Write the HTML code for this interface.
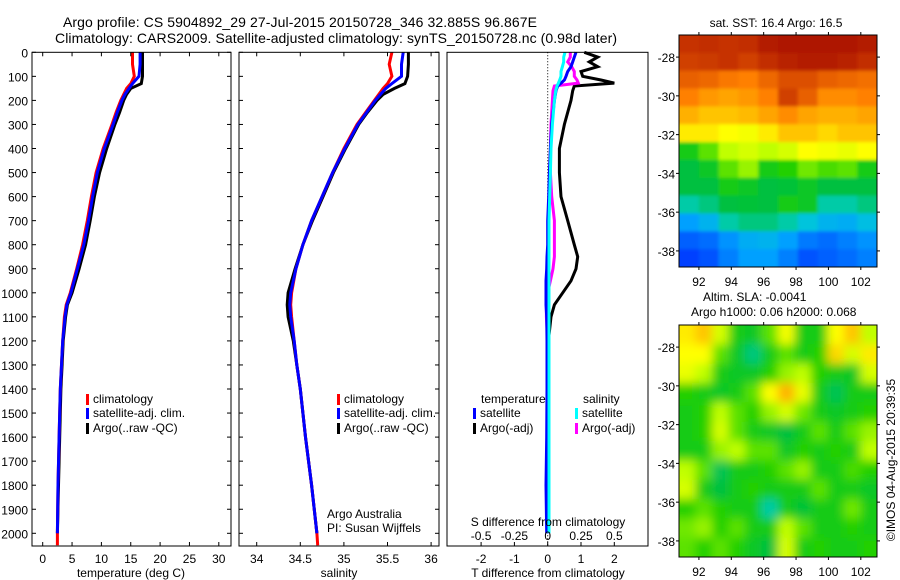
<!DOCTYPE html>
<html><head><meta charset="utf-8">
<style>
html,body{margin:0;padding:0;background:#fff;}
svg{display:block;font-family:"Liberation Sans",sans-serif;}
text{font-size:12px;fill:#000;}
</style></head>
<body>
<svg id="fig" width="900" height="580" viewBox="0 0 900 580" xmlns="http://www.w3.org/2000/svg">
<defs>
<clipPath id="clipSST"><rect x="679" y="35" width="198" height="232"/></clipPath>
<clipPath id="clipSLA"><rect x="679" y="325" width="198" height="232"/></clipPath>
<filter id="blurSLA" x="-10%" y="-10%" width="120%" height="120%"><feGaussianBlur stdDeviation="5"/></filter>
<filter id="blurSST" x="-5%" y="-5%" width="110%" height="110%"><feGaussianBlur stdDeviation="1.5"/></filter>
</defs>
<text x="63" y="27" textLength="474" style="font-size:14px">Argo profile: CS 5904892_29 27-Jul-2015 20150728_346 32.885S 96.867E</text>
<text x="55" y="43" textLength="562" style="font-size:14px">Climatology: CARS2009. Satellite-adjusted climatology: synTS_20150728.nc (0.98d later)</text>
<g id="p1"></g>
<g id="p2"></g>
<g id="p3"></g>
<g id="m1"></g>
<g id="m2"></g>
<text x="776" y="27" text-anchor="middle">sat. SST: 16.4 Argo: 16.5</text>
<text x="703" y="301">Altim. SLA: -0.0041</text>
<text x="691" y="316">Argo h1000: 0.06 h2000: 0.068</text>
<text transform="translate(895,460) rotate(-90)" text-anchor="middle">©IMOS 04-Aug-2015 20:39:35</text>
</svg>
<script>
// ---- profile data ----
const depths = [0,50,100,130,150,175,200,250,300,400,500,600,700,800,900,1000,1050,1100,1200,1300,1400,1600,1800,2000];
const depthsClim = [0,50,100,130,150,175,200,250,300,400,500,600,700,800,900,1000,1050,1100,1200,1300,1400,1600,1800,2000,2050];
const tempClim = [15.3,15.3,15.6,15.0,14.3,13.8,13.3,12.5,11.8,10.3,9.1,8.3,7.6,6.8,5.8,4.7,4.0,3.7,3.4,3.2,3.0,2.8,2.6,2.5,2.5];
const tempSat  = [16.6,16.6,16.4,15.3,14.7,14.0,13.5,12.7,12.0,10.5,9.3,8.5,7.8,7.0,5.9,4.8,4.1,3.8,3.4,3.2,3.0,2.8,2.6,2.5];
const tempArgo = [17.0,17.0,17.0,16.8,15.0,14.3,13.8,13.1,12.3,10.9,9.7,8.8,8.1,7.3,6.2,5.0,4.2,3.9,3.5,3.3,3.1,2.9,2.7,2.5];
const salClim = [35.55,35.52,35.55,35.5,35.45,35.4,35.35,35.25,35.15,35.0,34.87,34.75,34.63,34.53,34.45,34.4,34.39,34.4,34.43,34.46,34.5,34.56,34.63,34.69,34.7];
const salSat  = [35.68,35.66,35.66,35.55,35.48,35.42,35.36,35.26,35.16,35.01,34.87,34.75,34.63,34.53,34.45,34.39,34.38,34.39,34.43,34.46,34.5,34.56,34.63,34.69];
const salArgo = [35.74,35.74,35.73,35.7,35.58,35.45,35.38,35.27,35.17,35.02,34.88,34.76,34.64,34.53,34.44,34.36,34.35,34.36,34.42,34.46,34.5,34.56,34.63,34.69];
const diffDepths = [0,20,40,60,80,100,115,128,140,160,200,300,400,500,600,700,800,850,900,950,1000,1050,1100,1200,1400,1600,1800,2000];
const tDiffSat  = [0.85,0.8,0.75,0.7,0.6,0.55,0.5,0.4,0.3,0.25,0.2,0.12,0.08,0.05,0.03,0.0,0.0,-0.02,-0.03,-0.05,-0.05,-0.05,-0.03,-0.02,-0.02,-0.03,-0.05,-0.03];
const tDiffArgo = [1.1,1.5,1.25,1.5,1.0,1.05,1.6,2.0,0.8,0.75,0.7,0.5,0.35,0.35,0.4,0.6,0.8,0.9,0.85,0.7,0.45,0.2,0.1,0.02,0.0,0.02,0.0,0.0];
const sDiffSat  = [0.13,0.12,0.12,0.11,0.1,0.1,0.09,0.08,0.07,0.06,0.05,0.035,0.025,0.02,0.015,0.01,0.01,0.01,0.01,0.01,0.01,0.01,0.01,0.01,0.01,0.01,0.01,0.01];
const sDiffArgo = [0.17,0.17,0.15,0.18,0.2,0.2,0.22,0.23,0.05,0.04,0.035,0.025,0.02,0.02,0.03,0.05,0.05,0.05,0.04,0.02,0.0,-0.01,-0.01,0.0,0.0,0.0,0.0,0.0];
const depthTicks = [0,100,200,300,400,500,600,700,800,900,1000,1100,1200,1300,1400,1500,1600,1700,1800,1900,2000];
const tempTicks = [0,5,10,15,20,25,30];
const salTicks = [34,34.5,35,35.5,36];
const tDiffTicks = [-2,-1,0,1,2];
const sDiffTicks = [-0.5,-0.25,0,0.25,0.5];
// ---- map data (colour index 0..1), rows north->south ----
const sstGrid = [
[.92,.93,.92,.93,.96,.97,.97,.97,.97,.96],
[.90,.91,.92,.90,.93,.95,.96,.96,.95,.93],
[.86,.85,.83,.82,.85,.88,.88,.86,.85,.84],
[.82,.78,.76,.78,.82,.90,.86,.80,.80,.82],
[.74,.72,.72,.73,.76,.80,.76,.74,.74,.76],
[.68,.68,.66,.65,.68,.72,.72,.70,.72,.72],
[.50,.55,.60,.62,.60,.62,.66,.65,.64,.66],
[.45,.48,.55,.58,.50,.52,.56,.54,.55,.50],
[.45,.45,.50,.48,.45,.46,.48,.45,.45,.45],
[.40,.42,.45,.46,.45,.50,.48,.40,.40,.42],
[.30,.33,.40,.42,.42,.40,.36,.33,.32,.35],
[.20,.22,.28,.32,.33,.30,.24,.22,.25,.28],
[.15,.18,.25,.30,.30,.25,.18,.20,.22,.25]];
const slaGrid = [
[.68,.72,.62,.50,.48,.55,.65,.50,.50,.66,.72,.60],
[.66,.66,.55,.48,.42,.50,.55,.50,.52,.70,.62,.68],
[.64,.60,.50,.48,.48,.52,.58,.60,.52,.50,.48,.62],
[.52,.50,.48,.50,.55,.66,.74,.64,.50,.44,.50,.50],
[.50,.52,.60,.55,.52,.58,.62,.56,.50,.48,.50,.52],
[.50,.52,.62,.55,.50,.48,.45,.50,.55,.50,.55,.58],
[.50,.50,.58,.60,.55,.55,.48,.52,.50,.52,.50,.60],
[.60,.55,.44,.50,.50,.52,.55,.58,.50,.50,.54,.52],
[.62,.50,.45,.50,.52,.50,.50,.50,.55,.50,.50,.48],
[.52,.55,.52,.50,.50,.40,.50,.46,.50,.50,.56,.50],
[.56,.58,.52,.55,.50,.50,.60,.55,.50,.50,.52,.50],
[.55,.52,.55,.52,.48,.45,.62,.50,.52,.50,.50,.52]];
const lonTicks = [92,94,96,98,100,102];
const latTicks = [-28,-30,-32,-34,-36,-38];

const NS = "http://www.w3.org/2000/svg";
function mk(parent, tag, attrs, txt){
  const e = document.createElementNS(NS, tag);
  for (const k in attrs) e.setAttribute(k, attrs[k]);
  if (txt !== undefined) e.textContent = txt;
  parent.appendChild(e);
  return e;
}
const yD = d => 52.3 + 0.2405*d;
const PT = 52.3, PB = 546;

function frame(g, x0, x1, name){
  const r = mk(g,'rect',{x:x0,y:PT,width:x1-x0,height:PB-PT,fill:'none',stroke:'#000','stroke-width':1});
  
  
}
function yTicks(g, x0, x1, labels){
  depthTicks.forEach(d=>{
    const y = yD(d);
    const t1 = mk(g,'line',{x1:x0,x2:x0+4,y1:y,y2:y,stroke:'#000'});
    
    
    const t2 = mk(g,'line',{x1:x1-4,x2:x1,y1:y,y2:y,stroke:'#000'});
    
    
    if (labels){
      const t = mk(g,'text',{x:28,y:y+5,'text-anchor':'end'}, String(d));
      
      
    }
  });
}
function xTicks(g, ticks, fx, yLab, fmt, top){
  ticks.forEach(v=>{
    const x = fx(v);
    const a = mk(g,'line',{x1:x,x2:x,y1:PB-4,y2:PB,stroke:'#000'});
    
    
    if (top){
      const b = mk(g,'line',{x1:x,x2:x,y1:PT,y2:PT+4,stroke:'#000'});
      
      
    }
    const t = mk(g,'text',{x:x,y:yLab,'text-anchor':'middle'}, fmt(v));
    
    
  });
}
function profile(g, ds, vals, fx, color, name, w){
  const pts = vals.map((v,i)=> fx(v).toFixed(1)+','+yD(ds[i]).toFixed(1)).join(' ');
  const p = mk(g,'polyline',{points:pts,fill:'none',stroke:color,'stroke-width':w||3,'stroke-linejoin':'miter'});
  
  
}
function legend(g, x, y, color, label, name){
  const r = mk(g,'rect',{x:x,y:y-9,width:3,height:11,fill:color});
  
  
  const t = mk(g,'text',{x:x+7,y:y}, label);
  
  
}

// Panel 1 temperature
const g1 = document.getElementById('p1');
const fxT = t => 42.7 + 5.87*t;
profile(g1, depths, tempArgo, fxT, '#000', 'temp-argo-line');
profile(g1, depthsClim, tempClim, fxT, '#f00', 'temp-clim-line');
profile(g1, depths, tempSat, fxT, '#00f', 'temp-sat-line');
frame(g1, 32, 231, 'temperature-plot-frame');
yTicks(g1, 32, 231, true);
xTicks(g1, tempTicks, fxT, 563, v=>String(v), true);
const xl1 = mk(g1,'text',{x:131,y:577,'text-anchor':'middle'},'temperature (deg C)');


legend(g1, 86, 403, '#f00', 'climatology', 'legend-climatology');
legend(g1, 86, 417, '#00f', 'satellite-adj. clim.', 'legend-satellite');
legend(g1, 86, 432, '#000', 'Argo(..raw -QC)', 'legend-argo');

// Panel 2 salinity
const g2 = document.getElementById('p2');
const fxS = s => 256.7 + 87.2*(s-34);
profile(g2, depths, salArgo, fxS, '#000', 'sal-argo-line');
profile(g2, depthsClim, salClim, fxS, '#f00', 'sal-clim-line');
profile(g2, depths, salSat, fxS, '#00f', 'sal-sat-line');
frame(g2, 239, 439, 'salinity-plot-frame');
yTicks(g2, 239, 439, false);
xTicks(g2, salTicks, fxS, 563, v=>String(v), true);
const xl2 = mk(g2,'text',{x:339,y:577,'text-anchor':'middle'},'salinity');


legend(g2, 337, 403, '#f00', 'climatology', 'legend-climatology');
legend(g2, 337, 417, '#00f', 'satellite-adj. clim.', 'legend-satellite');
legend(g2, 337, 432, '#000', 'Argo(..raw -QC)', 'legend-argo');
const aa = mk(g2,'text',{x:327,y:518},'Argo Australia');


const pi = mk(g2,'text',{x:327,y:532},'PI: Susan Wijffels');



// Panel 3 differences
const g3 = document.getElementById('p3');
const fxTd = t => 547.7 + 33.3*t;
const fxSd = s => 547.7 + 133.2*s;
const zl = mk(g3,'line',{x1:fxTd(0),x2:fxTd(0),y1:PT,y2:PB,stroke:'#000','stroke-dasharray':'1,2'});


profile(g3, diffDepths, tDiffArgo, fxTd, '#000', 'tdiff-argo-line');
profile(g3, diffDepths, sDiffArgo, fxSd, '#f0f', 'sdiff-argo-line');
profile(g3, diffDepths, tDiffSat, fxTd, '#00f', 'tdiff-sat-line');
profile(g3, diffDepths, sDiffSat, fxSd, '#0ff', 'sdiff-sat-line');
frame(g3, 447, 648, 'difference-plot-frame');
xTicks(g3, tDiffTicks, fxTd, 563, v=>String(v), false);
sDiffTicks.forEach(v=>{
  const t = mk(g3,'text',{x:fxSd(v),y:540,'text-anchor':'middle'}, String(v));
  
  
});
const st = mk(g3,'text',{x:548,y:526,'text-anchor':'middle'},'S difference from climatology');


const tt = mk(g3,'text',{x:548,y:577,'text-anchor':'middle'},'T difference from climatology');


const lt = mk(g3,'text',{x:481,y:403},'temperature');


const ls = mk(g3,'text',{x:583,y:403},'salinity');


legend(g3, 473, 417, '#00f', 'satellite', 'legend-t-satellite');
legend(g3, 473, 432, '#000', 'Argo(-adj)', 'legend-t-argo');
legend(g3, 575, 417, '#0ff', 'satellite', 'legend-s-satellite');
legend(g3, 575, 432, '#f0f', 'Argo(-adj)', 'legend-s-argo');

// ---- maps ----
const stops = [[0,[0,0,160]],[0.15,[0,64,255]],[0.3,[0,160,255]],[0.38,[0,208,208]],[0.45,[0,192,64]],[0.52,[32,208,0]],[0.6,[192,255,0]],[0.66,[255,255,0]],[0.74,[255,176,0]],[0.82,[255,128,0]],[0.9,[208,64,0]],[1,[160,0,0]]];
function cmap(v){
  v = Math.max(0, Math.min(1, v));
  for (let i=1;i<stops.length;i++){
    if (v <= stops[i][0]){
      const a = stops[i-1], b = stops[i];
      const f = (v-a[0])/(b[0]-a[0]);
      const c = a[1].map((x,k)=>Math.round(x+(b[1][k]-x)*f));
      return 'rgb('+c.join(',')+')';
    }
  }
  return 'rgb(160,0,0)';
}
function drawMap(g, grid, x0, y0, w, h, clip, filt, name){
  const lon0 = 90.77, lon1 = 103.0, lat0 = -26.86, lat1 = -38.83;
  const fx = lon => x0 + (lon-lon0)/(lon1-lon0)*w;
  const fy = lat => y0 + (lat-lat0)/(lat1-lat0)*h;
  const cg = mk(g,'g',{'clip-path':'url(#'+clip+')'});
  const ig = mk(cg,'g',{filter:'url(#'+filt+')'});
  const R = grid.length, C = grid[0].length;
  const cw = w/C, ch = h/R;
  for (let r=-1;r<=R;r++){
    for (let c=-1;c<=C;c++){
      const rr = Math.max(0,Math.min(R-1,r)), cc = Math.max(0,Math.min(C-1,c));
      const cell = mk(ig,'rect',{x:(x0+c*cw).toFixed(2),y:(y0+r*ch).toFixed(2),width:(cw+0.6).toFixed(2),height:(ch+0.6).toFixed(2),fill:cmap(grid[rr][cc])});
      
      
    }
  }
  const fr = mk(g,'rect',{x:x0,y:y0,width:w,height:h,fill:'none',stroke:'#000'});
  
  
  lonTicks.forEach(v=>{
    const x = fx(v);
    const a = mk(g,'line',{x1:x,x2:x,y1:y0,y2:y0-3,stroke:'#000'});
    
    
    const b = mk(g,'line',{x1:x,x2:x,y1:y0+h,y2:y0+h+3,stroke:'#000'});
    
    
    const t = mk(g,'text',{x:x,y:y0+h+19,'text-anchor':'middle'}, String(v));
    
    
  });
  latTicks.forEach(v=>{
    const y = fy(v);
    const a = mk(g,'line',{x1:x0-3,x2:x0,y1:y,y2:y,stroke:'#000'});
    
    
    const b = mk(g,'line',{x1:x0+w,x2:x0+w+3,y1:y,y2:y,stroke:'#000'});
    
    
    const t = mk(g,'text',{x:x0-4,y:y+5,'text-anchor':'end'}, String(v));
    
    
  });
}
drawMap(document.getElementById('m1'), sstGrid, 679, 35, 198, 232, 'clipSST', 'blurSST', 'sst-map');
drawMap(document.getElementById('m2'), slaGrid, 679, 325, 198, 232, 'clipSLA', 'blurSLA', 'sla-map');
</script>
</body></html>
